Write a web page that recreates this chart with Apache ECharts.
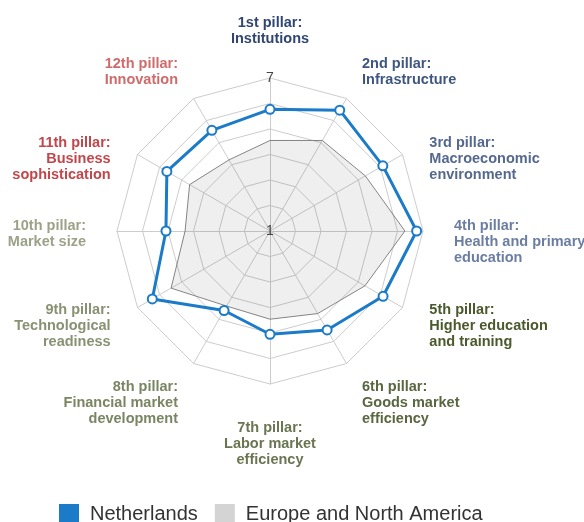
<!DOCTYPE html>
<html>
<head>
<meta charset="utf-8">
<script src="https://cdn.jsdelivr.net/npm/echarts@6/dist/echarts.min.js"></script>
<style>
  html, body { margin: 0; padding: 0; background: #fff; }
  #chart { width: 584px; height: 522px; }
</style>
</head>
<body>
<div id="chart"></div>
<script>
// pillars in clockwise order, starting at the top
const pillars = [
  '1st pillar:\nInstitutions',
  '2nd pillar:\nInfrastructure',
  '3rd pillar:\nMacroeconomic\nenvironment',
  '4th pillar:\nHealth and primary\neducation',
  '5th pillar:\nHigher education\nand training',
  '6th pillar:\nGoods market\nefficiency',
  '7th pillar:\nLabor market\nefficiency',
  '8th pillar:\nFinancial market\ndevelopment',
  '9th pillar:\nTechnological\nreadiness',
  '10th pillar:\nMarket size',
  '11th pillar:\nBusiness\nsophistication',
  '12th pillar:\nInnovation'
];
const netherlands = [5.77, 6.47, 6.11, 6.75, 6.12, 5.48, 5.05, 4.6, 6.33, 5.08, 5.67, 5.56];
const europeNA = [4.55, 5.1, 5.32, 6.29, 5.3, 4.74, 4.46, 4.4, 5.48, 4.33, 4.64, 4.22];
const scaleMin = 1;
const scaleMax = 7;

const labelColors = ['#2f4672', '#3f5682', '#55698f', '#6b7ea2', '#4a5a2c', '#59673f',
  '#6a7652', '#7a8563', '#889173', '#9ca287', '#c2464a', '#d06b6b'];
// extra downward nudge (px) for some labels
const labelShift = { 2: 20, 3: 11, 4: 3, 5: 13, 6: 5, 7: 13, 8: 3, 9: 3, 10: 20 };

const BLUE = '#1b7bc9';

// echarts lays indicators out counter-clockwise, so reverse after the first
const order = [0].concat(pillars.map((_, i) => i).slice(1).reverse());

// a blank spacer line on top pushes the label down
const spacerRich = {};
const nameToSpacer = {};
Object.keys(labelShift).forEach(k => {
  // bottom label is top-aligned, the side ones are middle-aligned
  const h = Number(k) === 6 ? labelShift[k] : labelShift[k] * 2;
  spacerRich['sp' + h] = { fontSize: 1, lineHeight: h };
  nameToSpacer[pillars[k]] = 'sp' + h;
});

const chart = echarts.init(document.getElementById('chart'));

chart.setOption({
  animation: false,
  textStyle: { fontFamily: 'Liberation Sans, Arial, sans-serif' },
  legend: {
    left: 59,
    top: 504,
    padding: 0,
    icon: 'rect',
    itemWidth: 20,
    itemHeight: 20,
    itemGap: 17,
    selectedMode: false,
    textStyle: { fontSize: 20, color: '#333', padding: [0, 0, 0, 6] },
    data: [
      { name: 'Netherlands', itemStyle: { color: BLUE, borderWidth: 0 } },
      { name: 'Europe and North America', itemStyle: { color: '#d4d4d4', borderWidth: 0 } }
    ]
  },
  radar: {
    center: [270, 231],
    radius: 153,
    startAngle: 90,
    splitNumber: 6,
    shape: 'polygon',
    axisNameGap: 31,
    axisName: {
      fontSize: 14.5,
      fontWeight: 'bold',
      lineHeight: 16,
      formatter: (name) => {
        const sp = nameToSpacer[name];
        return sp ? '{' + sp + '| }\n' + name : name;
      },
      rich: spacerRich
    },
    axisLine: { lineStyle: { color: '#cccccc', width: 1 } },
    splitLine: { lineStyle: { color: '#cccccc', width: 1 } },
    splitArea: { show: false },
    axisLabel: { show: false },
    indicator: order.map(i => ({
      name: pillars[i],
      min: scaleMin,
      max: scaleMax,
      color: labelColors[i]
    }))
  },
  polar: { center: [270, 231], radius: 153 },
  angleAxis: { show: false, startAngle: 90, min: 0, max: 360 },
  radiusAxis: {
    min: scaleMin,
    max: scaleMax,
    interval: scaleMax - scaleMin,
    axisLine: { show: false },
    axisTick: { show: false },
    splitLine: { show: false },
    axisLabel: {
      margin: 0,
      align: 'center',
      verticalAlign: 'middle',
      color: '#444',
      fontSize: 14
    },
    z: 10
  },
  series: [
    {
      name: 'Europe and North America',
      type: 'radar',
      symbol: 'none',
      itemStyle: { color: '#d4d4d4' },
      lineStyle: { color: '#888', width: 1 },
      areaStyle: { color: 'rgba(0,0,0,0.09)' },
      data: [{ value: order.map(i => europeNA[i]), name: 'Europe and North America' }],
      z: 2
    },
    {
      name: 'Netherlands',
      type: 'radar',
      symbol: 'circle',
      symbolSize: 9,
      itemStyle: { color: '#fff', borderColor: BLUE, borderWidth: 2 },
      lineStyle: { color: BLUE, width: 3 },
      data: [{ value: order.map(i => netherlands[i]), name: 'Netherlands' }],
      z: 3
    }
  ]
});

window.addEventListener('resize', () => chart.resize());
</script>
</body>
</html>
